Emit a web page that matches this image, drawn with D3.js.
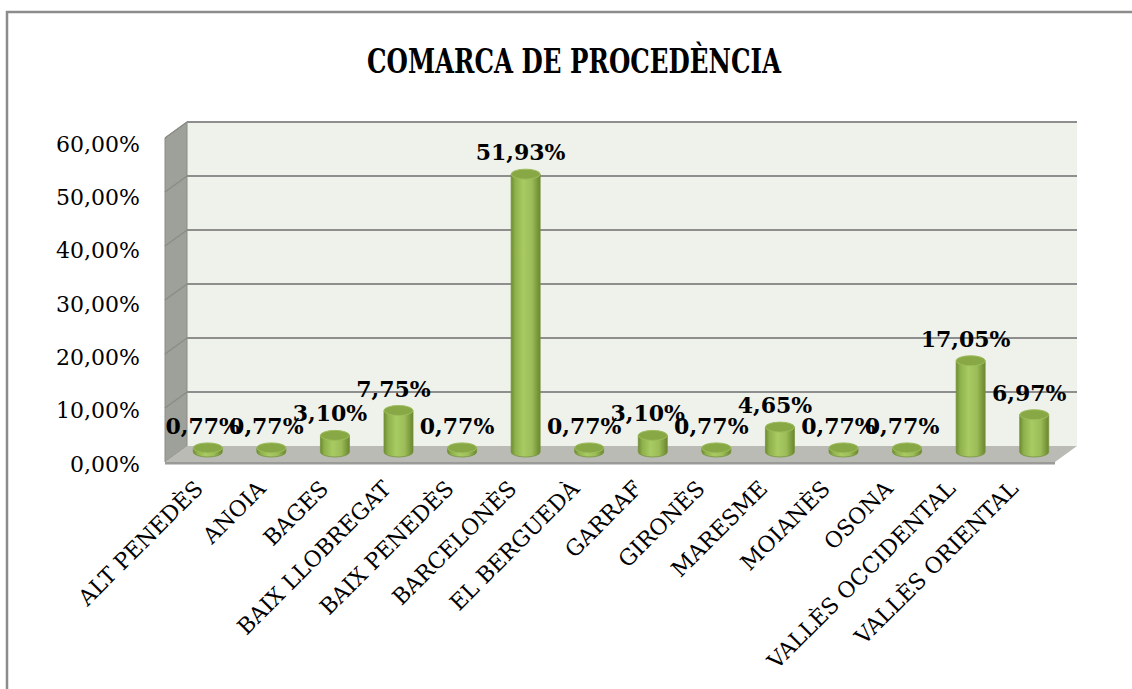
<!DOCTYPE html>
<html>
<head>
<meta charset="utf-8">
<script src="https://cdn.jsdelivr.net/npm/d3@7/dist/d3.min.js"></script>
<style>
  html, body { margin: 0; padding: 0; background: #ffffff; }
  svg { display: block; }
</style>
</head>
<body>
<svg id="chart" width="1132" height="689"></svg>
<script>
const title = "COMARCA DE PROCEDÈNCIA";
const categories = ["ALT PENEDÈS","ANOIA","BAGES","BAIX LLOBREGAT","BAIX PENEDÈS","BARCELONÈS","EL BERGUEDÀ","GARRAF","GIRONÈS","MARESME","MOIANÈS","OSONA","VALLÈS OCCIDENTAL","VALLÈS ORIENTAL"];
const values = [0.77,0.77,3.10,7.75,0.77,51.93,0.77,3.10,0.77,4.65,0.77,0.77,17.05,6.97];
const yTicks = [0,10,20,30,40,50,60];

const svg = d3.select("#chart");
const fmt = v => d3.format(".2f")(v).replace(".", ",") + "%";
const serif = "'DejaVu Serif', 'Liberation Serif', serif";

// geometry
const depthX = 22, depthY = 16;
const backLeft = 187, backRight = 1077;
const yBack = d3.scaleLinear().domain([0, 60]).range([446, 122]);
const yMid = d3.scaleLinear().domain([0, 60]).range([452, 131]);
const yLab = d3.scaleLinear().domain([0, 60]).range([464, 144]);
const xBar = d3.scaleBand().domain(categories).range([backLeft - depthX + 11, backRight - depthX + 11]);
const xLab = d3.scaleBand().domain(categories).range([173, 1051]);

// frame
svg.append("path")
  .attr("d", "M7,689 L7,12 L1132,12")
  .attr("fill", "none").attr("stroke", "#8c8c8c").attr("stroke-width", 2.5);

// title
svg.append("text")
  .attr("x", 574).attr("y", 73)
  .attr("text-anchor", "middle")
  .attr("font-family", serif).attr("font-weight", "bold")
  .attr("font-size", 33).attr("fill", "#000")
  .attr("textLength", 414).attr("lengthAdjust", "spacingAndGlyphs")
  .text(title);

// back wall
svg.append("rect")
  .attr("x", backLeft).attr("y", yBack(60))
  .attr("width", backRight - backLeft).attr("height", yBack(0) - yBack(60))
  .attr("fill", "#eff1eb");

// side wall
svg.append("path")
  .attr("d", `M${backLeft - depthX},${yBack(60) + depthY} L${backLeft},${yBack(60)} L${backLeft},${yBack(0)} L${backLeft - depthX},${yBack(0) + depthY} Z`)
  .attr("fill", "#9ea199").attr("stroke", "#8a8c86").attr("stroke-width", 1);

// floor
svg.append("path")
  .attr("d", `M${backLeft - depthX},${yBack(0) + depthY} L${backLeft},${yBack(0)} L${backRight},${yBack(0)} L${backRight - depthX},${yBack(0) + depthY} Z`)
  .attr("fill", "#b9bbb4");
svg.append("line")
  .attr("x1", backLeft - depthX).attr("x2", backRight - depthX)
  .attr("y1", yBack(0) + depthY + 1.2).attr("y2", yBack(0) + depthY + 1.2)
  .attr("stroke", "#9a9b98").attr("stroke-width", 2.4);

// gridlines
const grid = svg.append("g");
yTicks.filter(v => v > 0).forEach(v => {
  grid.append("line")
    .attr("x1", backLeft).attr("x2", backRight)
    .attr("y1", yBack(v)).attr("y2", yBack(v))
    .attr("stroke", "#8e8e8e").attr("stroke-width", 2);
  grid.append("line")
    .attr("x1", backLeft - depthX).attr("x2", backLeft)
    .attr("y1", yBack(v) + depthY).attr("y2", yBack(v))
    .attr("stroke", "#8a8c86").attr("stroke-width", 1.5);
});

// y tick labels
svg.append("g").selectAll("text").data(yTicks).join("text")
  .attr("x", 140).attr("y", d => yLab(d))
  .attr("text-anchor", "end").attr("dominant-baseline", "central")
  .attr("font-family", serif).attr("font-size", 22).attr("fill", "#000")
  .text(d => fmt(d));

// cylinder gradient
const defs = svg.append("defs");
const g = defs.append("linearGradient").attr("id", "cyl").attr("x1", "0%").attr("x2", "100%");
[["0%", "#6e8c30"], ["14%", "#8fb14c"], ["42%", "#a9cb63"], ["72%", "#9bbc58"], ["100%", "#6a872d"]]
  .forEach(([o, c]) => g.append("stop").attr("offset", o).attr("stop-color", c));

const rx = 14.5, ry = 5;
const bars = svg.append("g");
categories.forEach((c, i) => {
  const cx = xBar(c) + xBar.bandwidth() / 2;
  const yb = yMid(0), yt = yMid(values[i]);
  bars.append("path")
    .attr("d", `M${cx - rx},${yt} L${cx - rx},${yb} A${rx},${ry} 0 0 0 ${cx + rx},${yb} L${cx + rx},${yt} Z`)
    .attr("fill", "url(#cyl)").attr("stroke", "#76933c").attr("stroke-width", 0.8);
  bars.append("ellipse")
    .attr("cx", cx).attr("cy", yt).attr("rx", rx).attr("ry", ry)
    .attr("fill", "#87a844").attr("stroke", "#9dbd5c").attr("stroke-width", 1);
});

// data labels
svg.append("g").selectAll("text").data(values).join("text")
  .attr("x", (d, i) => xBar(categories[i]) + xBar.bandwidth() / 2 - 5)
  .attr("y", d => yMid(d) - 14)
  .attr("text-anchor", "middle")
  .attr("font-family", serif).attr("font-weight", "bold")
  .attr("font-size", 22).attr("fill", "#000")
  .text(d => fmt(d));

// x labels
svg.append("g").selectAll("text").data(categories).join("text")
  .attr("transform", d => `translate(${xLab(d) + xLab.bandwidth() / 2},490) rotate(-45)`)
  .attr("text-anchor", "end")
  .attr("font-family", serif).attr("font-size", 22).attr("fill", "#000")
  .text(d => d);
</script>
</body>
</html>
